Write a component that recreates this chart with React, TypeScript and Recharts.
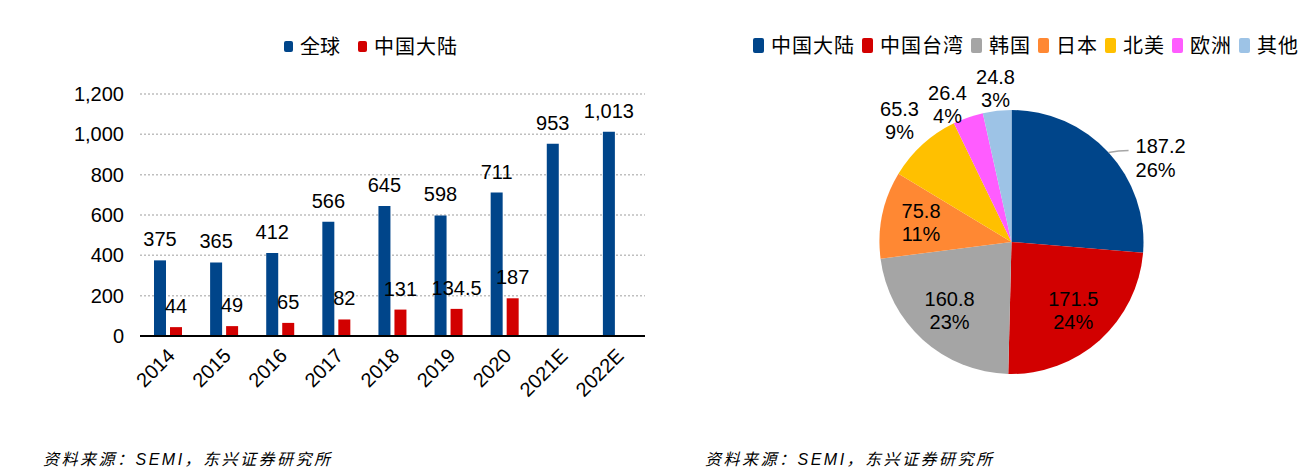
import { BarChart, Bar, XAxis, YAxis, CartesianGrid, LabelList, PieChart, Pie, Cell } from 'recharts'

const years = ['2014', '2015', '2016', '2017', '2018', '2019', '2020', '2021E', '2022E']
const globalSales = [375, 365, 412, 566, 645, 598, 711, 953, 1013]
const chinaSales: (number | null)[] = [44, 49, 65, 82, 131, 134.5, 187, null, null]
const yTicks = [0, 200, 400, 600, 800, 1000, 1200]

const regions = ['中国大陆', '中国台湾', '韩国', '日本', '北美', '欧洲', '其他']
const regionValues = [187.2, 171.5, 160.8, 75.8, 65.3, 26.4, 24.8]
const regionColors = ['#00458A', '#D20000', '#A5A5A5', '#FF8833', '#FFC000', '#FF5CFF', '#9DC3E6']

const BLUE = '#00458A'
const RED = '#D20000'
const FONT = '"Liberation Sans", Arial, "Noto Sans CJK SC", sans-serif'
const CJK = '"Noto Sans CJK SC", "Liberation Sans", sans-serif'

const barData = years.map((year, i) => ({ year, global: globalSales[i], china: chinaSales[i] }))
const pieData = regions.map((name, i) => ({ name, value: regionValues[i] }))

const fmt = (v: any) => (v == null ? '' : Number(v).toLocaleString('en-US'))

function YearTick({ x, y, payload }: any) {
  return (
    <g transform={`translate(${x + 8},${y + 13})`}>
      <text x={0} y={0} textAnchor='end' transform='rotate(-45)' fontSize={20} fill='#000' fontFamily={FONT}>
        {payload.value}
      </text>
    </g>
  )
}

function pieLabel(p: any) {
  const { cx, cy, midAngle, outerRadius, percent, index, value } = p
  const RAD = Math.PI / 180
  const pct = `${Math.round(percent * 100)}%`
  const common = { fontSize: 20, fill: '#000', fontFamily: FONT }
  if (index === 0) {
    // label to the right with a short leader line
    const ex = cx + outerRadius * Math.cos(-midAngle * RAD)
    const ey = cy + outerRadius * Math.sin(-midAngle * RAD)
    return (
      <g>
        <path d={`M${ex},${ey} Q${ex + 10},${ey - 2} ${ex + 20},${ey - 2}`} stroke='#A6A6A6' strokeWidth={1.5} fill='none' />
        <text {...common} textAnchor='start'>
          <tspan x={ex + 27} y={ey}>{value}</tspan>
          <tspan x={ex + 27} y={ey + 24}>{pct}</tspan>
        </text>
      </g>
    )
  }
  let x: number, y: number
  if (percent >= 0.1) {
    const r = outerRadius * 0.7
    x = cx + r * Math.cos(-midAngle * RAD)
    y = cy + r * Math.sin(-midAngle * RAD)
  } else {
    // small slices: stacked above-left of the pie top
    const k = regions.length - 1 - index
    x = cx - 16 - 48 * k
    y = cy - outerRadius - 21 + 16 * k
  }
  return (
    <text {...common} textAnchor='middle'>
      <tspan x={x} y={y - 5}>{value}</tspan>
      <tspan x={x} y={y + 18}>{pct}</tspan>
    </text>
  )
}

function LegendItem({ color, label, w, h, gap, spacing }: any) {
  return (
    <div style={{ display: 'flex', alignItems: 'center', marginRight: gap }}>
      <span style={{ display: 'inline-block', width: w, height: h, background: color, borderRadius: 2, marginRight: 7 }} />
      <span style={{ fontSize: 20, letterSpacing: spacing, lineHeight: '22px', color: '#000', fontFamily: CJK }}>{label}</span>
    </div>
  )
}

const footStyle: any = {
  position: 'absolute', top: 449, fontSize: 16, fontStyle: 'italic', letterSpacing: 2.5,
  fontFamily: '"Liberation Sans", "Noto Sans CJK SC", sans-serif', color: '#000', lineHeight: '22px',
}

export default function App() {
  return (
    <div style={{ position: 'relative', width: 1312, height: 476, margin: -8, background: '#fff',
      fontFamily: FONT, overflow: 'hidden' }}>
      {/* left: equipment sales bar chart */}
      <div style={{ position: 'absolute', left: 284, top: 35, display: 'flex' }}>
        <LegendItem color={BLUE} label='全球' w={9} h={11} gap={18} spacing={0} />
        <LegendItem color={RED} label='中国大陆' w={9} h={11} gap={0} spacing={1} />
      </div>
      <div style={{ position: 'absolute', left: 0, top: 0 }}>
        <BarChart width={660} height={440} data={barData} barGap={4} barSize={12}
          margin={{ top: 94, right: 15, left: 0, bottom: 0 }}>
          <CartesianGrid vertical={false} stroke='#BFBFBF' strokeDasharray='2 2' strokeWidth={1.5} />
          <XAxis dataKey='year' height={104} interval={0} tickLine={false}
            axisLine={{ stroke: '#000', strokeWidth: 2 }} tick={<YearTick />} />
          <YAxis width={140} domain={[0, 1200]} ticks={yTicks} axisLine={false} tickLine={false}
            tickMargin={10} tickFormatter={fmt} tick={{ fontSize: 20, fill: '#000', fontFamily: FONT }} />
          <Bar dataKey='global' name='全球' fill={BLUE} isAnimationActive={false}>
            <LabelList dataKey='global' position='top' offset={14} formatter={fmt}
              fontSize={20} fill='#000' fontFamily={FONT} />
          </Bar>
          <Bar dataKey='china' name='中国大陆' fill={RED} isAnimationActive={false}>
            <LabelList dataKey='china' position='top' offset={14} formatter={fmt}
              fontSize={20} fill='#000' fontFamily={FONT} />
          </Bar>
        </BarChart>
      </div>
      <div style={{ ...footStyle, left: 43 }}>资料来源：SEMI，东兴证券研究所</div>

      {/* right: 2020 regional split pie */}
      <div style={{ position: 'absolute', left: 753, top: 34, display: 'flex' }}>
        {regions.map((r, i) => (
          <LegendItem key={r} color={regionColors[i]} label={r} w={11} h={15} gap={7} spacing={1} />
        ))}
      </div>
      <div style={{ position: 'absolute', left: 740, top: 0 }}>
        <PieChart width={572} height={440} margin={{ top: 0, right: 0, bottom: 0, left: 0 }}>
          <Pie data={pieData} dataKey='value' nameKey='name' cx={271.5} cy={242} outerRadius={132}
            startAngle={90} endAngle={-270} stroke='none' label={pieLabel} labelLine={false}
            isAnimationActive={false}>
            {pieData.map((d, i) => <Cell key={d.name} fill={regionColors[i]} />)}
          </Pie>
        </PieChart>
      </div>
      <div style={{ ...footStyle, left: 705 }}>资料来源：SEMI，东兴证券研究所</div>
    </div>
  )
}
